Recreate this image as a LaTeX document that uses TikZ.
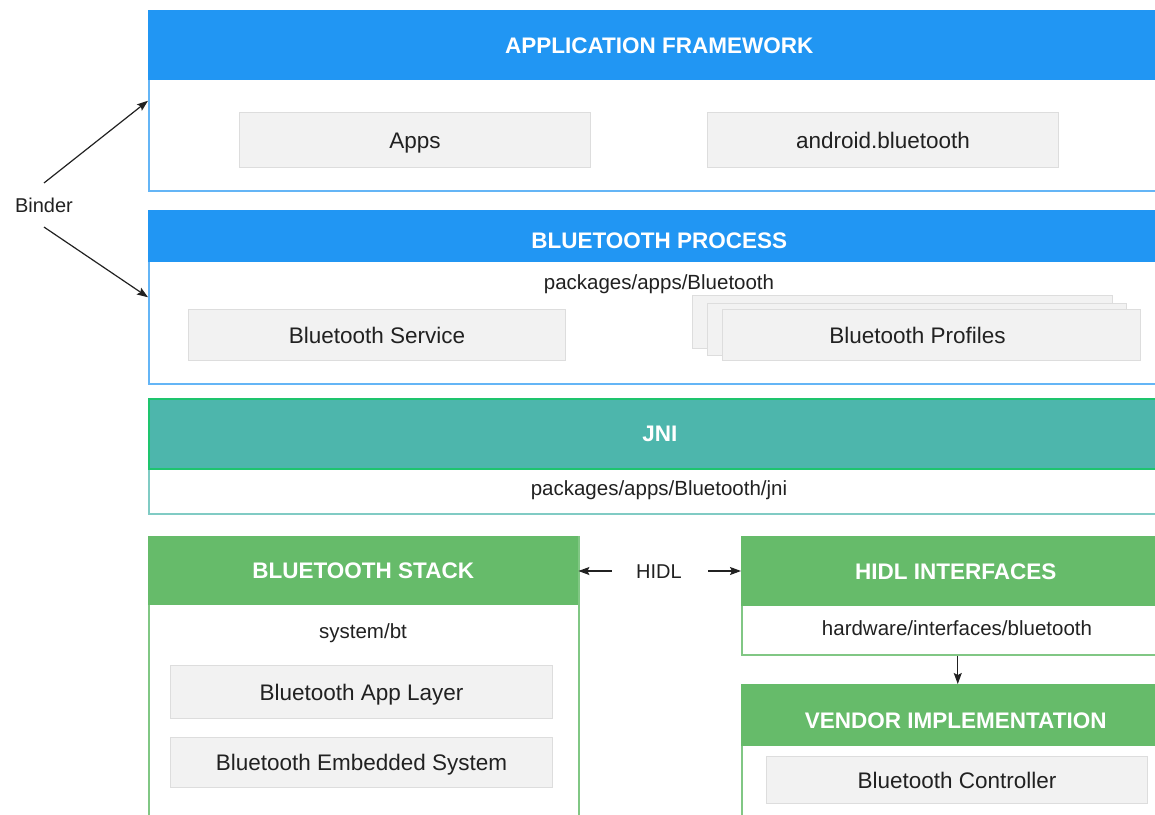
\documentclass[tikz,border=0pt]{standalone}
\usepackage{fontspec}
\setmainfont{Liberation Sans}
\usetikzlibrary{arrows.meta}
\definecolor{frameblue}{HTML}{2196F3}
\definecolor{lineblue}{HTML}{64B5F6}
\definecolor{jniteal}{HTML}{4DB6AC}
\definecolor{jniedge}{HTML}{1EC46E}
\definecolor{lineteal}{HTML}{80CBC4}
\definecolor{stackgreen}{HTML}{66BB6A}
\definecolor{linegreen}{HTML}{81C784}
\definecolor{boxgray}{HTML}{F2F2F2}
\definecolor{boxedge}{HTML}{DDDDDD}
\definecolor{inktext}{HTML}{212121}
\begin{document}
\begin{tikzpicture}[x=1pt,y=-1pt,
    layerbox/.style={draw,fill=white,line width=1.5pt,anchor=north west,inner sep=0pt},
    headbox/.style={fill=#1,anchor=north west,inner sep=0pt,text=white,text height=16pt,text depth=0pt,font=\fontsize{22.5}{27}\selectfont\bfseries},
    partbox/.style={draw=boxedge,fill=boxgray,line width=1pt,anchor=north west,inner sep=0pt,text=inktext,text height=16pt,text depth=0pt,font=\fontsize{22.5}{27}\selectfont},
    dirtext/.style={text=inktext,text height=15pt,text depth=0pt,font=\fontsize{20.5}{24}\selectfont},
    arr/.style={-{Stealth[length=11pt,width=8pt,inset=2pt]},line width=1.2pt,draw=inktext}]
      \useasboundingbox (0,0) rectangle (1155,814);
      \clip (0,0) rectangle (1155,814);
      \node[layerbox,draw=lineblue,minimum width=1022pt,minimum height=180pt] (appframe) at (148,10) {};
      \node[headbox=frameblue,minimum width=1022pt,minimum height=70pt] (apphead) at (148,10) {APPLICATION FRAMEWORK};
      \node[partbox,minimum width=351pt,minimum height=55pt] (apps) at (239,112) {Apps};
      \node[partbox,minimum width=351pt,minimum height=55pt] (androidbt) at (707,112) {android.bluetooth};
      \node[layerbox,draw=lineblue,minimum width=1022pt,minimum height=173pt] (btproc) at (148,210) {};
      \node[headbox=frameblue,text height=24pt,minimum width=1022pt,minimum height=52pt] (prochead) at (148,210) {BLUETOOTH PROCESS};
      \node[dirtext] (procdir) at (659,282) {packages/apps/Bluetooth};
      \node[partbox,minimum width=377pt,minimum height=51pt] (btservice) at (188,309) {Bluetooth Service};
      \node[partbox,minimum width=420pt,minimum height=53pt] (profback) at (692,295) {};
      \node[partbox,minimum width=419pt,minimum height=52pt] (profmid) at (707,303) {};
      \node[partbox,minimum width=418pt,minimum height=51pt] (profiles) at (722,309) {\hspace*{-28pt}Bluetooth Profiles};
      \node[layerbox,draw=lineteal,minimum width=1022pt,minimum height=115pt] (jni) at (148,398) {};
      \node[headbox=jniteal,draw=jniedge,line width=1.5pt,minimum width=1022pt,minimum height=70pt] (jnihead) at (148,398) {JNI};
      \node[dirtext] (jnidir) at (659,488) {packages/apps/Bluetooth/jni};
      \node[layerbox,draw=linegreen,minimum width=430pt,minimum height=300pt] (btstack) at (148,536) {};
      \node[headbox=stackgreen,minimum width=430pt,minimum height=69pt] (stackhead) at (148,536) {BLUETOOTH STACK};
      \node[dirtext] (stackdir) at (363,631) {system/bt};
      \node[partbox,minimum width=382pt,minimum height=53pt] (applayer) at (170,665) {Bluetooth App Layer};
      \node[partbox,minimum width=382pt,minimum height=50pt] (embedded) at (170,737) {Bluetooth Embedded System};
      \node[layerbox,draw=linegreen,minimum width=429pt,minimum height=118pt] (hidlif) at (741,536) {};
      \node[headbox=stackgreen,minimum width=429pt,minimum height=70pt] (hidlhead) at (741,536) {HIDL INTERFACES};
      \node[dirtext] (hidldir) at (957,628) {hardware/interfaces/bluetooth};
      \node[layerbox,draw=linegreen,minimum width=429pt,minimum height=150pt] (vendor) at (741,684) {};
      \node[headbox=stackgreen,text height=27pt,minimum width=429pt,minimum height=62pt] (vendorhead) at (741,684) {VENDOR IMPLEMENTATION};
      \node[partbox,minimum width=381pt,minimum height=47pt] (controller) at (766,756) {Bluetooth Controller};
      \node[dirtext,font=\fontsize{20}{24}\selectfont] (binder) at (44,205) {Binder};
      \node[dirtext,font=\fontsize{20}{24}\selectfont] (hidl) at (659,571) {HIDL};
      \draw[arr] ([yshift=11pt]binder.north) -- (appframe.west);
      \draw[arr] ([yshift=-11pt]binder.south) -- (btproc.west);
      \draw[arr,shorten <=21pt] (hidl.west) -- (hidl.west -| stackhead.east);
      \draw[arr,shorten <=23pt] (hidl.east) -- (hidl.east -| hidlhead.west);
      \draw[arr] ([xshift=1.5pt]hidlif.south) -- ([xshift=1.5pt]vendor.north);
    \end{tikzpicture}
\end{document}
